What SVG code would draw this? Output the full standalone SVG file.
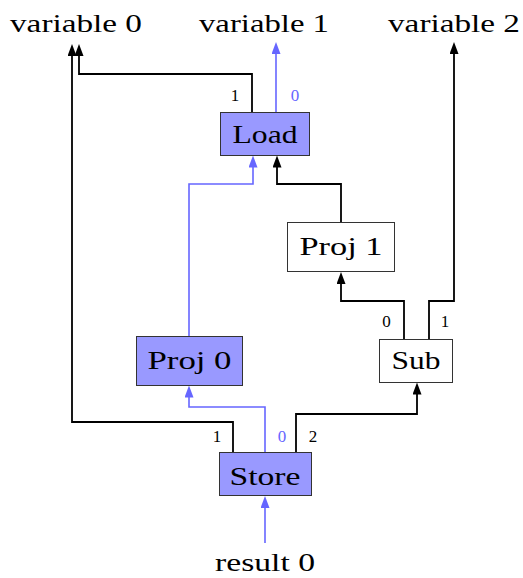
<svg xmlns="http://www.w3.org/2000/svg" width="523" height="578" viewBox="0 0 523 578">
<style>
.t{font-family:"Liberation Serif",serif;font-size:26px;fill:#000;text-anchor:middle}
.p{font-family:"Liberation Serif",serif;font-size:17px;fill:#000;text-anchor:middle}
.pb{fill:#6666ff}
.box{fill:#9999ff;stroke:#333;stroke-width:1}
.wbox{fill:#fff;stroke:#333;stroke-width:1}
.k{fill:none;stroke:#000;stroke-width:1.8;marker-end:url(#ak)}
.b{fill:none;stroke:#6666ff;stroke-width:1.6;marker-end:url(#ab)}
</style>
<defs>
<marker id="ak" markerUnits="userSpaceOnUse" markerWidth="13" markerHeight="10" refX="2" refY="4.5" orient="auto"><path d="M0,0 L12,4.5 L0,9 z" fill="#000"/></marker>
<marker id="ab" markerUnits="userSpaceOnUse" markerWidth="13" markerHeight="10" refX="2" refY="4.5" orient="auto"><path d="M0,0 L12,4.5 L0,9 z" fill="#6666ff"/></marker>
</defs>
<g id="labels">
<text class="t" x="76" y="32" textLength="132" lengthAdjust="spacingAndGlyphs">variable 0</text>
<text class="t" x="264" y="32" textLength="130" lengthAdjust="spacingAndGlyphs">variable 1</text>
<text class="t" x="454" y="32" textLength="132" lengthAdjust="spacingAndGlyphs">variable 2</text>
<text class="t" x="265" y="571" textLength="100" lengthAdjust="spacingAndGlyphs">result 0</text>
</g>
<g id="connectors">
<path class="k" d="M252,112.5 V74 H79 V54"/>
<path class="k" d="M233,452.5 V422 H72 V54"/>
<path class="k" d="M404,339.5 V301 H341 V282"/>
<path class="k" d="M429,339.5 V301 H454 V52"/>
<path class="k" d="M296,452.5 V414 H417 V392.5"/>
<path class="k" d="M341,222.5 V184 H277 V165.5"/>
<path class="b" d="M276,112.5 V52"/>
<path class="b" d="M189,336.5 V184 H253 V165.5"/>
<path class="b" d="M265,452.5 V407 H189 V395.5"/>
<path class="b" d="M265,543 V506"/>
<text class="p" x="235" y="101">1</text>
<text class="p pb" x="295" y="101">0</text>
<text class="p" x="386.5" y="327">0</text>
<text class="p" x="445" y="327">1</text>
<text class="p" x="217" y="442">1</text>
<text class="p pb" x="282" y="442">0</text>
<text class="p" x="313" y="442">2</text>
</g>
<g id="load">
<rect class="box" x="220.5" y="112.5" width="89" height="43"/>
<text class="t" x="265" y="143" textLength="65" lengthAdjust="spacingAndGlyphs">Load</text>
</g>
<g id="proj1">
<rect class="wbox" x="287.5" y="222.5" width="107" height="49"/>
<text class="t" x="341" y="255" textLength="83" lengthAdjust="spacingAndGlyphs">Proj 1</text>
</g>
<g id="proj0">
<rect class="box" x="136.5" y="336.5" width="106" height="49"/>
<text class="t" x="189.5" y="369" textLength="84" lengthAdjust="spacingAndGlyphs">Proj 0</text>
</g>
<g id="sub">
<rect class="wbox" x="379.5" y="339.5" width="73" height="43"/>
<text class="t" x="416" y="369" textLength="49" lengthAdjust="spacingAndGlyphs">Sub</text>
</g>
<g id="store">
<rect class="box" x="219.5" y="452.5" width="92" height="43"/>
<text class="t" x="265" y="485" textLength="71" lengthAdjust="spacingAndGlyphs">Store</text>
</g>
</svg>
